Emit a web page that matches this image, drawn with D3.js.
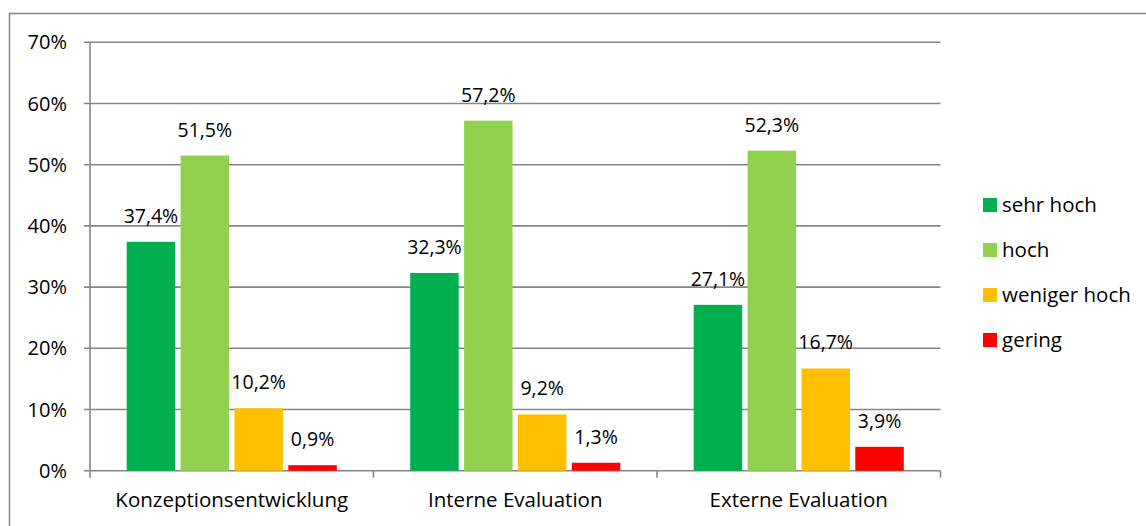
<!DOCTYPE html>
<html>
<head>
<meta charset="utf-8">
<script src="https://cdn.jsdelivr.net/npm/d3@7"></script>
<style>
  html, body { margin: 0; padding: 0; background: #fff; }
  svg { display: block; }
  text { font-family: "Open Sans", "Noto Sans", sans-serif; fill: #000; }
</style>
</head>
<body>
<svg id="chart" width="1146" height="526"></svg>
<script>
// Categories, series and values (percent)
const categories = ["Konzeptionsentwicklung", "Interne Evaluation", "Externe Evaluation"];
const seriesNames = ["sehr hoch", "hoch", "weniger hoch", "gering"];
const seriesColors = ["#00B050", "#92D050", "#FFC000", "#FF0000"];
const sehrHoch = [37.4, 32.3, 27.1];
const hoch = [51.5, 57.2, 52.3];
const wenigerHoch = [10.2, 9.2, 16.7];
const gering = [0.9, 1.3, 3.9];
const yTicks = [0, 10, 20, 30, 40, 50, 60, 70];

const seriesValues = [sehrHoch, hoch, wenigerHoch, gering];

const svg = d3.select("#chart");
const gridColor = "#868686";

// outer chart frame
svg.append("rect")
  .attr("x", 9.5).attr("y", 13.5)
  .attr("width", 1160).attr("height", 540)
  .attr("fill", "none").attr("stroke", gridColor).attr("stroke-width", 1.5);

const plot = { left: 90, right: 940.5, top: 42.3, bottom: 470.7 };

const x0 = d3.scaleBand()
  .domain(categories)
  .range([plot.left, plot.right])
  .paddingInner(0).paddingOuter(0);

const bandW = x0.bandwidth();
const x1 = d3.scaleBand()
  .domain(seriesNames)
  .range([36.7, bandW - 36.7])
  .paddingInner(0.1).paddingOuter(0);

const y = d3.scaleLinear().domain([0, 70]).range([plot.bottom, plot.top]);

// horizontal gridlines
svg.append("g")
  .selectAll("line")
  .data(yTicks)
  .join("line")
  .attr("x1", plot.left - 6).attr("x2", plot.right)
  .attr("y1", d => y(d)).attr("y2", d => y(d))
  .attr("stroke", gridColor).attr("stroke-width", 1.6);

// y axis line
svg.append("line")
  .attr("x1", plot.left).attr("x2", plot.left)
  .attr("y1", plot.top).attr("y2", plot.bottom)
  .attr("stroke", gridColor).attr("stroke-width", 1.6);

// y tick labels
svg.append("g")
  .selectAll("text")
  .data(yTicks)
  .join("text")
  .attr("x", 67).attr("y", d => y(d))
  .attr("text-anchor", "end").attr("dy", "0.35em")
  .style("font-size", "20px")
  .text(d => d + "%");

// category separators below the axis
const sepX = categories.map(c => x0(c)).concat([plot.right]);
svg.append("g")
  .selectAll("line")
  .data(sepX)
  .join("line")
  .attr("x1", d => d).attr("x2", d => d)
  .attr("y1", plot.bottom).attr("y2", plot.bottom + 7)
  .attr("stroke", gridColor).attr("stroke-width", 1.6);

// bars and value labels
const groups = svg.append("g")
  .selectAll("g")
  .data(categories)
  .join("g")
  .attr("transform", c => `translate(${x0(c)},0)`);

const fmt = v => v.toFixed(1).replace(".", ",") + "%";

seriesNames.forEach((s, si) => {
  groups.append("rect")
    .attr("x", x1(s))
    .attr("width", x1.bandwidth())
    .attr("y", (c, ci) => y(seriesValues[si][ci]))
    .attr("height", (c, ci) => plot.bottom - y(seriesValues[si][ci]))
    .attr("fill", seriesColors[si]);

  groups.append("text")
    .attr("x", x1(s) + x1.bandwidth() / 2)
    .attr("y", (c, ci) => y(seriesValues[si][ci]) - 19)
    .attr("text-anchor", "middle")
    .style("font-size", "19.5px")
    .text((c, ci) => fmt(seriesValues[si][ci]));
});

// category labels
svg.append("g")
  .selectAll("text")
  .data(categories)
  .join("text")
  .attr("x", c => x0(c) + bandW / 2)
  .attr("y", 500)
  .attr("dy", "0.35em")
  .attr("text-anchor", "middle")
  .style("font-size", "20.5px")
  .text(c => c);

// legend
const legend = svg.append("g")
  .selectAll("g")
  .data(seriesNames)
  .join("g")
  .attr("transform", (d, i) => `translate(983,${205 + i * 45})`);

legend.append("rect")
  .attr("x", 0).attr("y", -7)
  .attr("width", 14).attr("height", 14)
  .attr("fill", (d, i) => seriesColors[i]);

legend.append("text")
  .attr("x", 19).attr("y", 0).attr("dy", "0.35em")
  .style("font-size", "20.5px")
  .text(d => d);
</script>
</body>
</html>
